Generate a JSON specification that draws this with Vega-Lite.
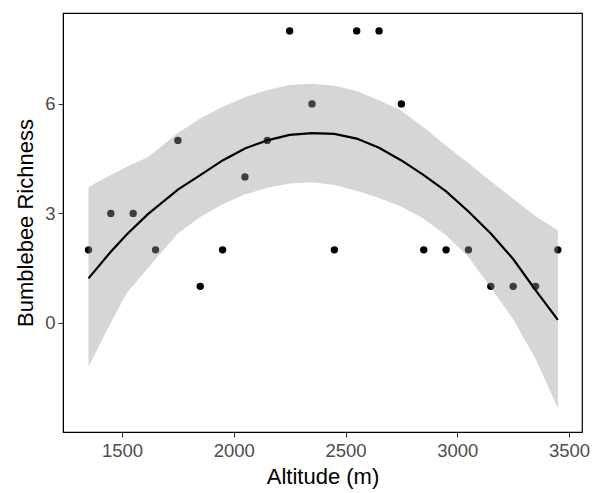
{
  "$schema": "https://vega.github.io/schema/vega-lite/v6.json",
  "width": 519,
  "height": 419,
  "autosize": "none",
  "padding": {"left": 63, "top": 13, "right": 11, "bottom": 61},
  "background": "white",
  "config": {
    "font": "Liberation Sans",
    "view": {"stroke": "#000000", "strokeWidth": 1.2},
    "axis": {
      "grid": false,
      "labelFontSize": 18.5,
      "labelColor": "#4D4D4D",
      "tickColor": "#333333",
      "tickSize": 5,
      "domainColor": "#000000",
      "titleFontSize": 22,
      "titleFontWeight": "normal",
      "titleColor": "#000000"
    }
  },
  "datasets": {
    "obs": [
      {"altitude": 1350, "richness": 2},
      {"altitude": 1450, "richness": 3},
      {"altitude": 1550, "richness": 3},
      {"altitude": 1650, "richness": 2},
      {"altitude": 1750, "richness": 5},
      {"altitude": 1850, "richness": 1},
      {"altitude": 1950, "richness": 2},
      {"altitude": 2050, "richness": 4},
      {"altitude": 2150, "richness": 5},
      {"altitude": 2250, "richness": 8},
      {"altitude": 2350, "richness": 6},
      {"altitude": 2450, "richness": 2},
      {"altitude": 2550, "richness": 8},
      {"altitude": 2650, "richness": 8},
      {"altitude": 2750, "richness": 6},
      {"altitude": 2850, "richness": 2},
      {"altitude": 2950, "richness": 2},
      {"altitude": 3050, "richness": 2},
      {"altitude": 3150, "richness": 1},
      {"altitude": 3250, "richness": 1},
      {"altitude": 3350, "richness": 1},
      {"altitude": 3450, "richness": 2}
    ],
    "smooth": [
      {"altitude": 1350, "fit": 1.22, "lower": -1.2, "upper": 3.72},
      {"altitude": 1450, "fit": 1.95, "lower": 0.0, "upper": 4.05},
      {"altitude": 1521, "fit": 2.42, "lower": 0.81, "upper": 4.28},
      {"altitude": 1616, "fit": 2.98, "lower": 1.5, "upper": 4.54},
      {"altitude": 1750, "fit": 3.65, "lower": 2.45, "upper": 5.2},
      {"altitude": 1850, "fit": 4.05, "lower": 2.9, "upper": 5.6},
      {"altitude": 1950, "fit": 4.45, "lower": 3.25, "upper": 5.92},
      {"altitude": 2050, "fit": 4.78, "lower": 3.52, "upper": 6.18},
      {"altitude": 2150, "fit": 5.0, "lower": 3.7, "upper": 6.38},
      {"altitude": 2250, "fit": 5.15, "lower": 3.82, "upper": 6.52},
      {"altitude": 2350, "fit": 5.2, "lower": 3.85, "upper": 6.55},
      {"altitude": 2450, "fit": 5.18, "lower": 3.78, "upper": 6.5},
      {"altitude": 2550, "fit": 5.05, "lower": 3.62, "upper": 6.35},
      {"altitude": 2650, "fit": 4.8, "lower": 3.42, "upper": 6.1},
      {"altitude": 2750, "fit": 4.45, "lower": 3.18, "upper": 5.82},
      {"altitude": 2850, "fit": 4.05, "lower": 2.85, "upper": 5.35},
      {"altitude": 2950, "fit": 3.6, "lower": 2.4, "upper": 4.85},
      {"altitude": 3050, "fit": 3.05, "lower": 1.8, "upper": 4.37},
      {"altitude": 3150, "fit": 2.45, "lower": 0.97, "upper": 3.88},
      {"altitude": 3250, "fit": 1.75, "lower": 0.1, "upper": 3.4},
      {"altitude": 3350, "fit": 0.9, "lower": -0.98, "upper": 2.92},
      {"altitude": 3450, "fit": 0.08, "lower": -2.33, "upper": 2.54}
    ]
  },
  "encoding": {
    "x": {
      "field": "altitude",
      "type": "quantitative",
      "scale": {"domain": [1236, 3558], "nice": false, "zero": false},
      "axis": {"values": [1500, 2000, 2500, 3000, 3500], "format": "d", "labelPadding": 4, "titlePadding": 7, "title": "Altitude (m)", "labelFlush": false}
    }
  },
  "layer": [
    {
      "data": {"name": "obs"},
      "mark": {"type": "circle", "size": 55, "color": "#000000", "opacity": 1},
      "encoding": {
        "y": {
          "field": "richness",
          "type": "quantitative",
          "scale": {"domain": [-2.99, 8.49], "nice": false, "zero": false},
          "title": "Bumblebee Richness",
          "axis": {"values": [0, 3, 6], "format": "d", "labelPadding": 3, "titlePadding": 7}
        }
      }
    },
    {
      "data": {"name": "smooth"},
      "mark": {"type": "area", "color": "#999999", "opacity": 0.4},
      "encoding": {
        "y": {"field": "lower", "type": "quantitative", "title": "Bumblebee Richness"},
        "y2": {"field": "upper"}
      }
    },
    {
      "data": {"name": "smooth"},
      "mark": {"type": "line", "color": "#000000", "strokeWidth": 2.2},
      "encoding": {
        "y": {"field": "fit", "type": "quantitative", "title": "Bumblebee Richness"}
      }
    }
  ]
}
